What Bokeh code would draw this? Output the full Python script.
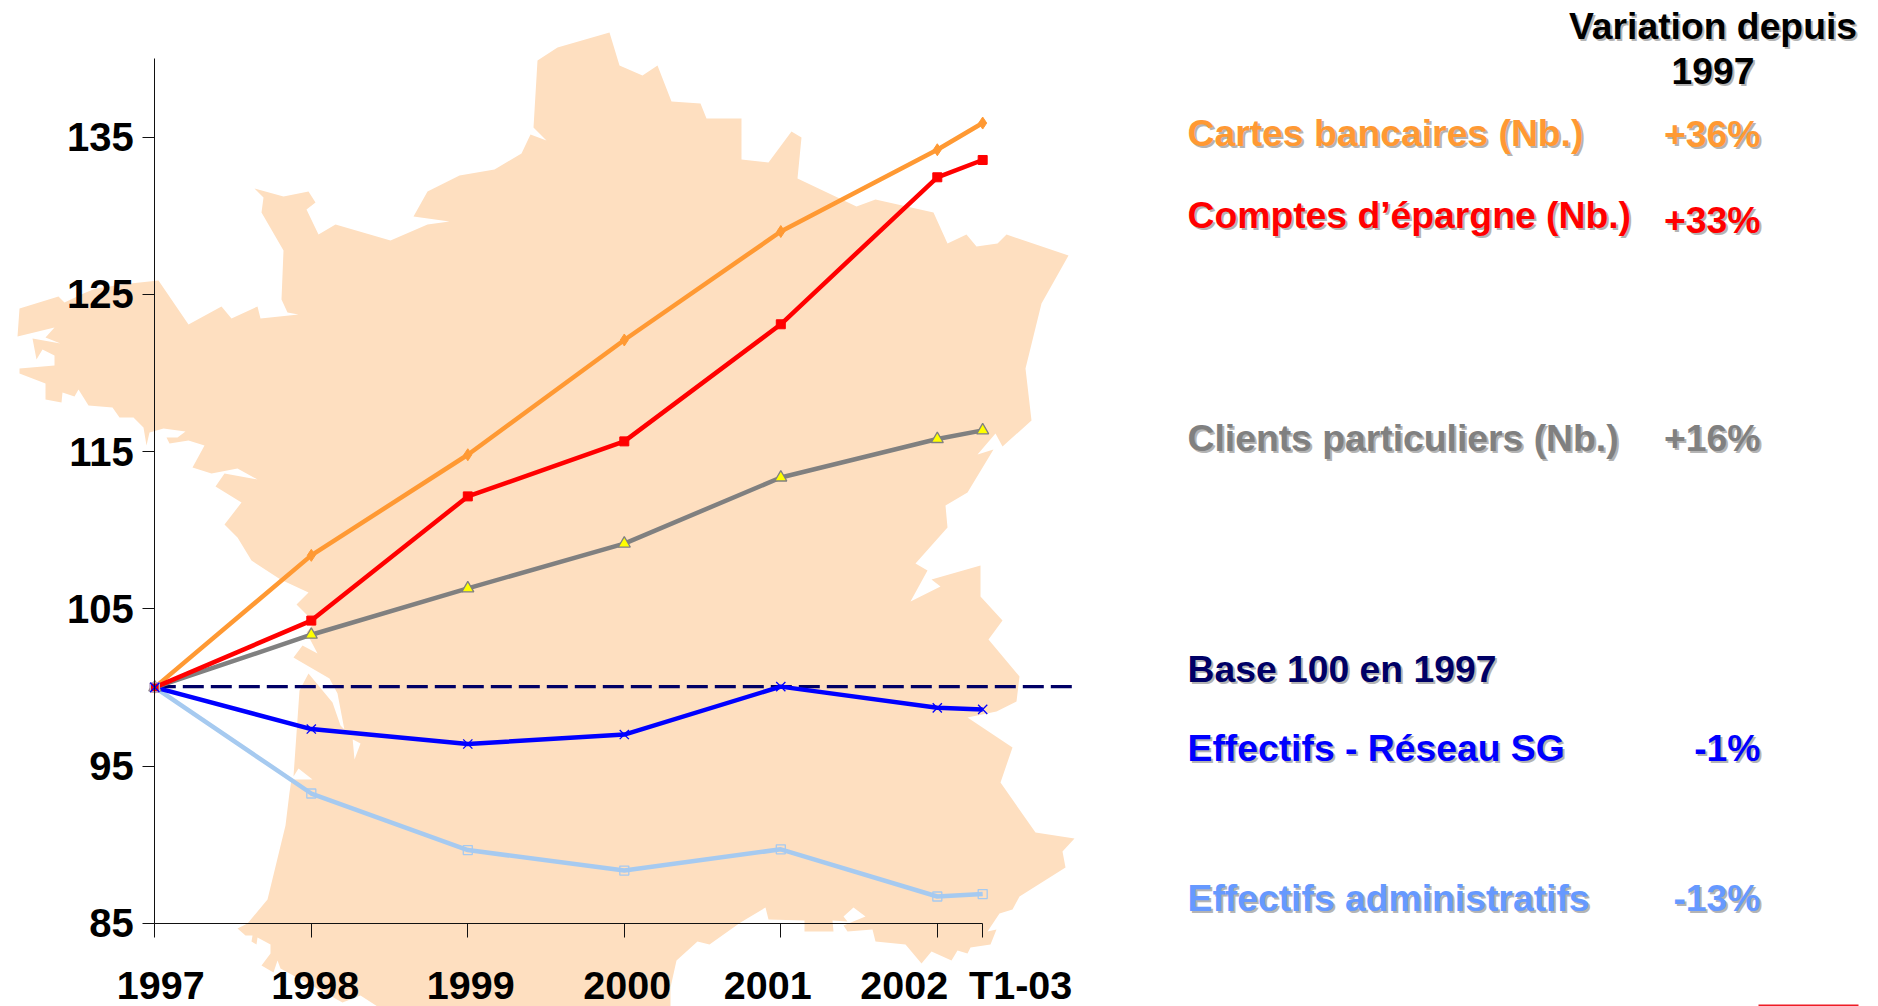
from bokeh.embed import file_html
from bokeh.resources import INLINE
from bokeh.plotting import figure
from bokeh.models import Range1d, FixedTicker
from bokeh.core.properties import value

# ---- data -----------------------------------------------------------------
tick_years = [1997, 1998, 1999, 2000, 2001, 2002, 2002.29]
tick_labels = ["1997", "1998", "1999", "2000", "2001", "2002", "T1-03"]
y_ticks = [85, 95, 105, 115, 125, 135]

cartes = [100, 108.4, 114.8, 122.1, 129.0, 134.2, 135.9]
comptes = [100, 104.25, 112.15, 115.65, 123.1, 132.45, 133.55]
clients = [100, 103.35, 106.3, 109.15, 113.35, 115.8, 116.35]
reseau = [100, 97.35, 96.4, 97.0, 100.05, 98.7, 98.6]
admin = [100, 93.25, 89.65, 88.35, 89.7, 86.7, 86.85]
base_x = [1997, 2002.89]
base_y = [100.05, 100.05]

# France outline in page pixels
map_x = [609, 619, 642, 657, 671, 700, 706, 741, 741, 768, 791, 801, 797, 856, 875, 933, 947, 966, 976, 997, 1006,
         1068, 1041, 1025, 1031, 1002, 995, 977, 993, 967, 945, 947, 915, 927, 910, 940, 931, 980, 980, 1002, 988,
         1019, 1016, 996, 967, 1012, 1000, 1035, 1074, 1062, 1065, 1019, 1012, 999, 987, 996, 990, 970, 967, 957,
         951, 931, 921, 905, 875, 872, 847, 843, 865, 853, 843, 847, 832, 833, 804, 804, 768, 765, 740, 709, 697,
         676, 670, 670, 377, 360, 342, 280, 277, 273, 261, 270, 270, 257, 256, 251, 252, 245, 237, 247, 267, 285,
         289, 291, 312, 298, 293, 299, 308, 332, 340, 351, 352, 354, 360, 345, 337, 329, 298, 293, 302, 317, 306,
         314, 296, 308, 280, 251, 237, 224, 241, 215, 224, 257, 237, 211, 192, 204, 188, 169, 166, 177, 185, 163,
         149, 146, 143, 133, 119, 112, 88, 78, 74, 62, 61, 45, 45, 19, 19, 54, 54, 42, 36, 32, 60, 45, 54, 17, 19,
         58, 64, 83, 95, 130, 158, 188, 221, 231, 257, 260, 298, 287, 281, 283, 261, 263, 254, 283, 308, 315, 306,
         318, 335, 390, 427, 449, 413, 427, 459, 494, 521, 530, 546, 533, 537, 557]
map_y = [32, 65, 75, 65, 101, 103, 118, 118, 159, 162, 131, 137, 178, 206, 199, 212, 243, 234, 246, 243, 234,
         255, 303, 368, 420, 446, 433, 454, 449, 492, 505, 527, 563, 570, 601, 586, 579, 565, 596, 620, 639,
         676, 701, 711, 717, 747, 782, 832, 838, 851, 867, 896, 909, 913, 931, 929, 944, 947, 953, 950,
         960, 951, 963, 944, 941, 929, 931, 925, 916, 907, 916, 921, 920, 931, 931, 920, 919, 907, 922, 944, 941,
         960, 987, 1006, 1006, 995, 1002, 968, 960, 972, 965, 953, 944, 937, 944, 941, 935, 935, 928, 923, 899, 825,
         792, 779, 779, 768, 776, 690, 673, 702, 725, 736, 737, 759, 743, 735, 693, 678, 660, 657, 645, 653, 632,
         622, 604, 592, 579, 560, 537, 524, 502, 486, 473, 479, 468, 473, 467, 445, 440, 443, 437, 437, 431, 428,
         432, 445, 427, 417, 417, 407, 405, 389, 396, 392, 402, 399, 383, 373, 368, 365, 355, 349, 359, 338, 343, 337, 327, 336, 308,
         296, 302, 293, 288, 283, 280, 324, 306, 318, 306, 318, 314, 312, 299, 250, 212, 197, 188, 196, 191, 202, 209,
         234, 224, 240, 224, 221, 216, 191, 175, 169, 153, 134, 140, 127, 60, 47]

header_lines = ["Variation depuis", "1997"]
series_names = ["Cartes bancaires (Nb.)", "Comptes d\u2019\u00e9pargne (Nb.)", "Clients particuliers (Nb.)",
                "Base 100 en 1997", "Effectifs - R\u00e9seau SG", "Effectifs administratifs"]
variations = ["+36%", "+33%", "+16%", "", "-1%", "-13%"]

# ---- layout and style constants --------------------------------------------
W, H = 1878, 1006
PX_LEFT, PX_RIGHT, PX_TOP, PX_BOTTOM = 0, W, 0, H
X0, X_SCALE = 154.3, 156.5     # page x of 1997, pixels per year
Y100, Y_SCALE = 686.9, 15.72   # page y of value 100, pixels per unit

FONT = value("Liberation Sans")
ORANGE, RED, GREY, BLUE, PALE, NAVY = "#FF9933", "#FF0000", "#808080", "#0000FF", "#A6CAF0", "#000066"
name_colors = [ORANGE, RED, GREY, NAVY, BLUE, "#6699FF"]
name_baselines = [132, 214, 437, 668, 747, 897]
pct_baselines = [133, 219, 437, 668, 747, 897]
tick_label_dx = [6, 4, 3, 3, -13, -33, 38]

p = figure(
    width=W, height=H, output_backend="svg", toolbar_location=None,
    x_range=Range1d(1997 + (PX_LEFT - X0) / X_SCALE, 1997 + (PX_RIGHT - X0) / X_SCALE),
    y_range=Range1d(100 + (Y100 - PX_BOTTOM) / Y_SCALE, 100 + (Y100 - PX_TOP) / Y_SCALE),
    min_border=0,
)
p.extra_x_ranges = {"px": Range1d(PX_LEFT, PX_RIGHT)}
p.extra_y_ranges = {"px": Range1d(PX_BOTTOM, PX_TOP)}
p.outline_line_color = None
p.grid.visible = False
p.background_fill_color = "white"
p.border_fill_color = "white"

# axes inside the frame
p.xaxis.fixed_location = 85
p.yaxis.fixed_location = 1997
p.xaxis.ticker = FixedTicker(ticks=tick_years)
p.yaxis.ticker = FixedTicker(ticks=y_ticks)
p.xaxis.bounds = (1997, 2002.29)
p.yaxis.bounds = (85, 140)
for ax in (p.xaxis, p.yaxis):
    ax.axis_line_color = "#111111"
    ax.axis_line_width = 1
    ax.major_tick_line_color = "#111111"
    ax.major_tick_line_width = 1
    ax.minor_tick_line_color = None
    ax.major_tick_in = 0
    ax.major_tick_out = 14
p.yaxis.major_tick_out = 12
p.yaxis.major_label_text_font = "Liberation Sans"
p.yaxis.major_label_text_font_style = "bold"
p.yaxis.major_label_text_font_size = "40px"
p.yaxis.major_label_text_color = "black"
p.yaxis.major_label_standoff = 9
p.xaxis.major_label_text_font_size = "0px"
p.xaxis.major_label_text_color = None

# map
p.patch(map_x, map_y, x_range_name="px", y_range_name="px",
        fill_color="#FEDFC0", line_color=None)

# base line
p.line(base_x, base_y, line_color=NAVY, line_width=3.2, line_dash="21 7")

# series
p.line(tick_years, admin, line_color=PALE, line_width=4.5)
p.scatter(tick_years, admin, marker="square", size=9, fill_color=None, line_color=PALE, line_width=1.3)

p.line(tick_years, reseau, line_color=BLUE, line_width=4.5)
p.scatter(tick_years, reseau, marker="x", size=13, line_color=BLUE, line_width=1.3)

p.line(tick_years, clients, line_color=GREY, line_width=4.5)
p.scatter(tick_years, clients, marker="triangle", size=12, fill_color="#FFFF00", line_color=GREY, line_width=1.3)

p.line(tick_years, cartes, line_color=ORANGE, line_width=4.5)
p.scatter(tick_years, cartes, marker="diamond", size=12, fill_color=ORANGE, line_color=ORANGE)

p.line(tick_years, comptes, line_color=RED, line_width=4.5)
p.scatter(tick_years, comptes, marker="square", size=9, fill_color=RED, line_color=RED)

# the first point shows the pale square on top
p.scatter(tick_years[:1], admin[:1], marker="square", size=9, fill_color=None, line_color=PALE, line_width=1.3)
p.scatter(tick_years[:1], reseau[:1], marker="x", size=13, line_color=BLUE, line_width=1.3)

# x tick labels
p.text(tick_years, [85] * len(tick_years), text=tick_labels, x_offset=tick_label_dx, y_offset=62,
       text_font=FONT, text_font_style="bold", text_font_size="39.5px", text_color="black",
       text_align="center", text_baseline="alphabetic")


def shadowed(x, y, txt, colors, align):
    common = dict(x_range_name="px", y_range_name="px", text_font=FONT, text_font_style="bold",
                  text_font_size="37.3px", text_align=align, text_baseline="alphabetic")
    p.text(x, y, text=txt, x_offset=2, y_offset=2, text_color="#B4B4B4", **common)
    p.text(x, y, text=txt, text_color=colors, **common)


# header
shadowed([1712.5, 1712.5], [25, 70.5], header_lines, ["black", "black"], "center")
# names
shadowed([1187] * len(series_names), name_baselines, series_names, name_colors, "left")
# variations
keep = [i for i, v in enumerate(variations) if v]
shadowed([1760] * len(keep), [pct_baselines[i] for i in keep], [variations[i] for i in keep],
         [name_colors[i] for i in keep], "right")

# red rule at the bottom right
p.quad(left=[1758], right=[1858], top=[1004], bottom=[1006], x_range_name="px", y_range_name="px",
       fill_color="#EE1C25", line_color=None)

open("out.html", "w").write(file_html(p, INLINE))
